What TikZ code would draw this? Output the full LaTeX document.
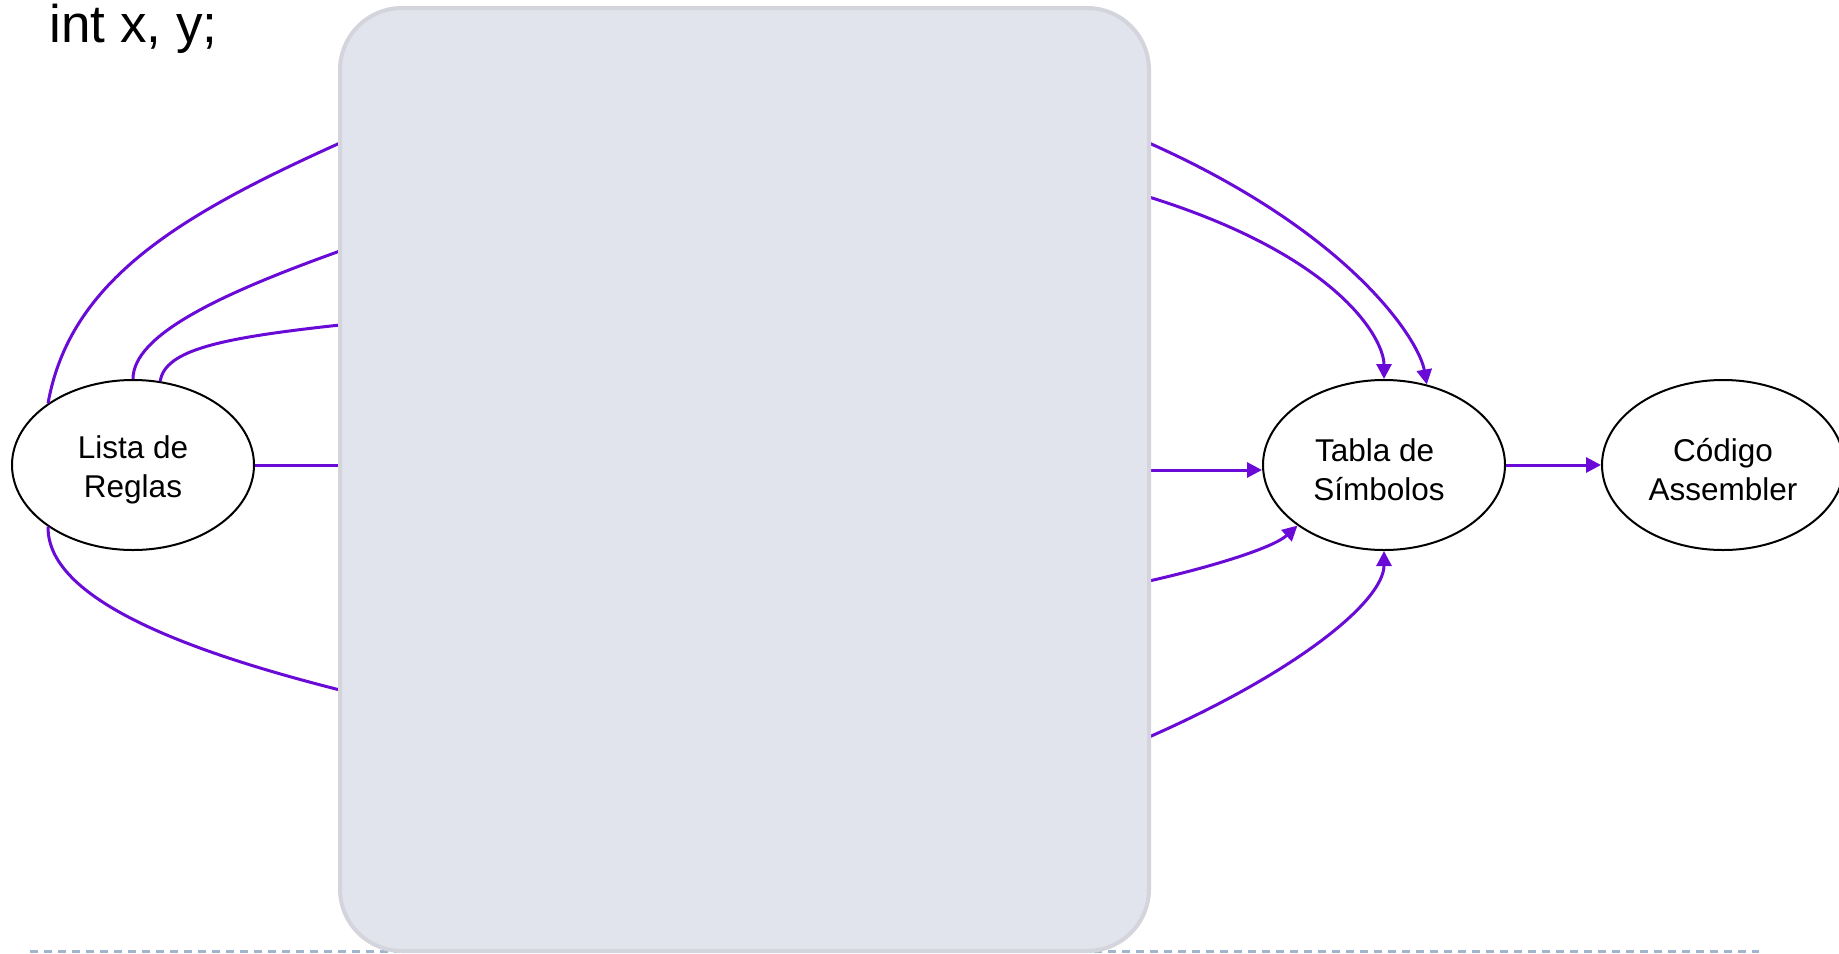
\documentclass[tikz,border=0pt]{standalone}
\usepackage{fontspec}
\setmainfont{Liberation Sans}
\usetikzlibrary{arrows.meta,shapes.geometric}
\definecolor{purp}{RGB}{105,10,215}
\definecolor{boxfill}{RGB}{225,228,236}
\definecolor{boxline}{RGB}{212,212,220}
\definecolor{dotline}{RGB}{160,182,206}
\begin{document}
\begin{tikzpicture}[x=0.5pt,y=-0.5pt,
  conn/.style={draw=purp,line width=1.5pt},
  arr/.style={conn,-{Triangle[length=7.5pt,width=7.5pt]}},
  term/.style={ellipse,draw=black,line width=1pt,fill=white,minimum width=121pt,minimum height=85pt,inner sep=0pt},
  termtext/.style={inner sep=0pt,align=center,font=\fontsize{15.75}{19.5}\selectfont},
  panel/.style={draw=boxline,line width=2pt,fill=boxfill,rounded corners=31pt,minimum width=404.5pt,minimum height=471.5pt,inner sep=0pt}]
\useasboundingbox (0,0) rectangle (1839,953);
% bottom dotted rule
\coordinate (D1) at (30,951.5);
\coordinate (D2) at (1759,951.5);
\draw[dotline,line width=1.25pt,dash pattern=on 3.75pt off 3.25pt] (D1) -- (D2);
% title
\node[anchor=base west,inner sep=0pt,font=\fontsize{26.5}{31}\selectfont] (title) at (49,42) {int x, y;};
% ellipses
\node[term] (lista) at (133,465) {};
\node[term] (tabla) at (1384,465) {};
\node[term] (codigo) at (1723,465) {};
\node[termtext] (listatext) at (133,470) {Lista de\\Reglas};
\node[termtext] (tablatext) at (1379,470) {Tabla de\hspace*{0.278em}\\Símbolos};
\node[termtext] (codigotext) at (1723,470) {Código\\Assembler};
% panel edge points
\coordinate (L1) at (340,143);
\coordinate (L2) at (340,251);
\coordinate (L3) at (340,325);
\coordinate (L4) at (340,465);
\coordinate (L5) at (340,690);
\coordinate (R1) at (1149,143);
\coordinate (R2) at (1149,197);
\coordinate (R3) at (1149,470);
\coordinate (R4) at (1149,581);
\coordinate (R5) at (1149,737);
% left connectors
\draw[conn] (lista.144) .. controls (70,280) and (180,215) .. (L1);
\draw[conn] (lista.north) .. controls (133,335) and (220,294) .. (L2);
\draw[conn] (lista.72.6) .. controls (165,350) and (220,338) .. (L3);
\draw[conn] (lista.east) -- (L4);
\draw[conn] (lista.216) .. controls (47,600) and (190,652) .. (L5);
% right connectors
\draw[arr] (R1) .. controls (1351,233) and (1419,340) .. (tabla.62.9);
\draw[arr] (R2) .. controls (1341,257) and (1384,340) .. (tabla.north);
\draw[arr] (R3) -- (R3 -| tabla.west);
\draw[arr] (R4) .. controls (1211,567) and (1273,548) .. (tabla.215.8);
\draw[arr] (R5) .. controls (1301,670) and (1384,600) .. (tabla.south);
\draw[arr] (tabla.east) -- (codigo.west);
% panel
\node[panel] (box) at (744.5,479.5) {};
\end{tikzpicture}
\end{document}
